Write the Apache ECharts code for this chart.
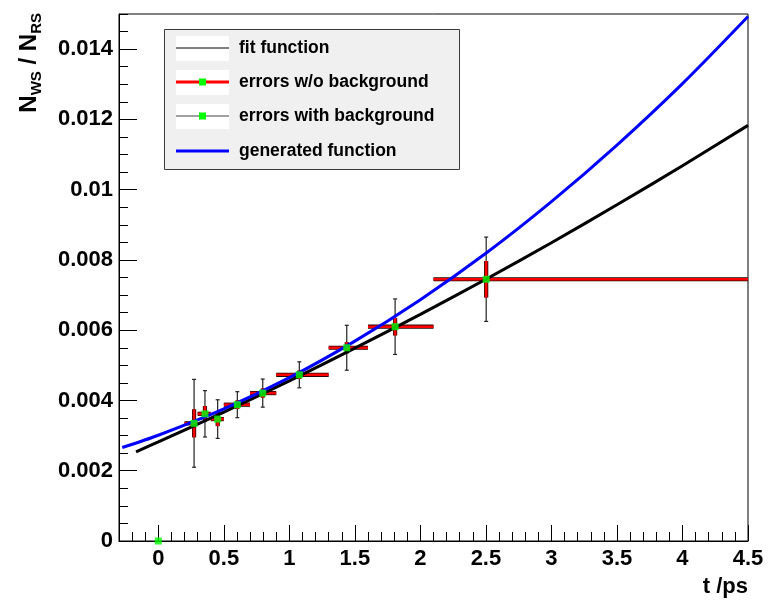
<!DOCTYPE html>
<html>
<head>
<meta charset="utf-8">
<script src="https://cdn.jsdelivr.net/npm/echarts@6/dist/echarts.min.js"></script>
<style>
  html, body { margin: 0; padding: 0; background: #ffffff; }
  #chart { width: 770px; height: 608px; }
</style>
</head>
<body>
<div id="chart"></div>
<script>
// Time bins (t in ps) and the measured wrong-sign / right-sign ratio
const binLow  = [0.2, 0.3, 0.4, 0.5, 0.7, 0.9, 1.3, 1.6, 2.1];
const binHigh = [0.3, 0.4, 0.5, 0.7, 0.9, 1.3, 1.6, 2.1, 4.5];
const tMean   = [0.273, 0.356, 0.453, 0.603, 0.797, 1.076, 1.438, 1.807, 2.502];
const ratio   = [0.00335, 0.00362, 0.00347, 0.00388, 0.00421, 0.00473, 0.00550, 0.00610, 0.00745];
// statistical errors without / with background subtraction
const errNoBg = [0.00040, 0.00022, 0.00020, 0.00012, 0.00013, 0.00012, 0.00016, 0.00025, 0.00052];
const errBg   = [0.00125, 0.00066, 0.00055, 0.00037, 0.00040, 0.00037, 0.00064, 0.00079, 0.00120];
// empty first bin
const emptyT = [0];
const emptyRatio = [0];

// fitted function, sampled along t
const fitT     = [-0.17, 0, 0.5, 1, 1.5, 2, 2.5, 3, 3.5, 4, 4.5];
const fitRatio = [0.00254, 0.00282, 0.00367, 0.00456, 0.00549, 0.00645, 0.00745, 0.00849, 0.00957, 0.01068, 0.01183];
// generated function, sampled along t
const genT     = [-0.275, 0, 0.5, 1, 1.5, 2, 2.5, 3, 3.5, 4, 4.5];
const genRatio = [0.00266, 0.00301, 0.00376, 0.00465, 0.00569, 0.00687, 0.00819, 0.00966, 0.01127, 0.01302, 0.01493];

// axis ticks and labels
const xMajor = [0, 0.5, 1, 1.5, 2, 2.5, 3, 3.5, 4, 4.5];
const xTickLabels = ['0', '0.5', '1', '1.5', '2', '2.5', '3', '3.5', '4', '4.5'];
const yMajor = [0, 0.002, 0.004, 0.006, 0.008, 0.01, 0.012, 0.014];
const yTickLabels = ['0', '0.002', '0.004', '0.006', '0.008', '0.01', '0.012', '0.014'];

const legendLabels = ['fit function', 'errors w/o background', 'errors with background', 'generated function'];

const FONT = 'Liberation Sans, Arial, Helvetica, sans-serif';

function labelFor(values, labels) {
  return function (v) {
    const i = values.findIndex(m => Math.abs(m - v) < 1e-9);
    return i >= 0 ? labels[i] : '';
  };
}

const errorRows = tMean.map((t, i) => [t, binLow[i], binHigh[i], ratio[i], errBg[i], errNoBg[i]]);

function renderErrors(params, api) {
  const t = api.value(0), lo = api.value(1), hi = api.value(2);
  const r = api.value(3), eb = api.value(4), en = api.value(5);
  const c = api.coord([t, r]);
  const left = api.coord([lo, r]);
  const right = api.coord([hi, r]);
  const bTop = api.coord([t, r + eb]);
  const bBot = api.coord([t, r - eb]);
  const nTop = api.coord([t, r + en]);
  const nBot = api.coord([t, r - en]);
  const seg = (x1, y1, x2, y2, stroke, w) => ({
    type: 'line',
    shape: { x1: x1, y1: y1, x2: x2, y2: y2 },
    style: { stroke: stroke, lineWidth: w }
  });
  return {
    type: 'group',
    children: [
      // errors with background: thin black bar with end caps
      seg(c[0], bTop[1], c[0], bBot[1], '#222', 1.2),
      seg(c[0] - 2, bTop[1], c[0] + 2, bTop[1], '#222', 1.2),
      seg(c[0] - 2, bBot[1], c[0] + 2, bBot[1], '#222', 1.2),
      // errors without background: red bars with a dark edge
      seg(left[0], c[1], right[0], c[1], '#2a0000', 4.2),
      seg(c[0], nTop[1], c[0], nBot[1], '#2a0000', 4.2),
      seg(left[0], c[1], right[0], c[1], '#ff0000', 2.6),
      seg(c[0], nTop[1], c[0], nBot[1], '#ff0000', 2.6)
    ]
  };
}

const chart = echarts.init(document.getElementById('chart'), null, { renderer: 'canvas' });

const GRID = { left: 119, right: 22, top: 14, bottom: 67 };

const legendX = 164, legendY = 29, legendW = 295, legendH = 140;
const rowY = [48, 82, 116, 151];
const legendGraphics = [
  { type: 'rect', shape: { x: legendX + 0.5, y: legendY + 0.5, width: legendW, height: legendH },
    style: { fill: '#f0f0f0', stroke: '#3a3a3a', lineWidth: 1 }, z: 100 },
  { type: 'rect', shape: { x: 176, y: rowY[0] - 12, width: 53, height: 25 }, style: { fill: '#ffffff' }, z: 101 },
  { type: 'rect', shape: { x: 176, y: rowY[1] - 12, width: 53, height: 25 }, style: { fill: '#ffffff' }, z: 101 },
  { type: 'rect', shape: { x: 176, y: rowY[2] - 12, width: 53, height: 25 }, style: { fill: '#ffffff' }, z: 101 },
  { type: 'line', shape: { x1: 176, y1: rowY[0], x2: 229, y2: rowY[0] }, style: { stroke: '#000', lineWidth: 1 }, z: 102 },
  { type: 'line', shape: { x1: 176, y1: rowY[1], x2: 229, y2: rowY[1] }, style: { stroke: '#ff0000', lineWidth: 3 }, z: 102 },
  { type: 'rect', shape: { x: 199, y: rowY[1] - 3.5, width: 7, height: 7 }, style: { fill: '#00ff00' }, z: 103 },
  { type: 'line', shape: { x1: 176, y1: rowY[2], x2: 229, y2: rowY[2] }, style: { stroke: '#444', lineWidth: 1 }, z: 102 },
  { type: 'rect', shape: { x: 199, y: rowY[2] - 3.5, width: 7, height: 7 }, style: { fill: '#00ff00' }, z: 103 },
  { type: 'line', shape: { x1: 176, y1: rowY[3], x2: 229, y2: rowY[3] }, style: { stroke: '#0000ff', lineWidth: 3 }, z: 102 }
];
legendLabels.forEach((txt, i) => {
  legendGraphics.push({
    type: 'text', x: 239, y: rowY[i], z: 103,
    style: { text: txt, fill: '#000', font: 'bold 17.5px ' + FONT, align: 'left', verticalAlign: 'middle' }
  });
});

const tickLabelStyle = { color: '#000', fontFamily: FONT, fontWeight: 'bold', fontSize: 22 };

const option = {
  animation: false,
  backgroundColor: '#ffffff',
  grid: Object.assign({ show: true, borderColor: '#000', borderWidth: 1, backgroundColor: 'transparent', containLabel: false }, GRID),
  xAxis: [
    {
      type: 'value', min: -0.3, max: 4.5, interval: 0.1, position: 'bottom',
      axisLine: { show: true, onZero: false, lineStyle: { color: '#000', width: 1 } },
      axisTick: { show: true, inside: true, length: 9, lineStyle: { color: '#000', width: 1 } },
      axisLabel: { show: false },
      splitLine: { show: false }
    },
    {
      type: 'value', min: -0.3, max: 4.5, position: 'bottom',
      axisLine: { show: false, onZero: false },
      axisTick: { show: true, inside: true, length: 16, customValues: xMajor, lineStyle: { color: '#000', width: 1 } },
      axisLabel: Object.assign({
        show: true, customValues: xMajor, margin: 7,
        formatter: labelFor(xMajor, xTickLabels)
      }, tickLabelStyle),
      splitLine: { show: false }
    }
  ],
  yAxis: [
    {
      type: 'value', min: 0, max: 0.015, interval: 0.0005, position: 'left',
      axisLine: { show: true, onZero: false, lineStyle: { color: '#000', width: 1 } },
      axisTick: { show: true, inside: true, length: 9, lineStyle: { color: '#000', width: 1 } },
      axisLabel: { show: false },
      splitLine: { show: false }
    },
    {
      type: 'value', min: 0, max: 0.015, position: 'left',
      axisLine: { show: false, onZero: false },
      axisTick: { show: true, inside: true, length: 18, customValues: yMajor, lineStyle: { color: '#000', width: 1 } },
      axisLabel: Object.assign({
        show: true, customValues: yMajor, margin: 6,
        formatter: labelFor(yMajor, yTickLabels)
      }, tickLabelStyle),
      splitLine: { show: false }
    }
  ],
  series: [
    {
      name: 'errors', type: 'custom', xAxisIndex: 0, yAxisIndex: 0,
      renderItem: renderErrors,
      encode: { x: [0, 1, 2], y: [3] },
      data: errorRows, clip: true, z: 2, silent: true
    },
    {
      name: 'fit function', type: 'line', xAxisIndex: 0, yAxisIndex: 0,
      data: fitT.map((t, i) => [t, fitRatio[i]]),
      smooth: 0.3, showSymbol: false, symbol: 'none', clip: true, z: 3,
      lineStyle: { color: '#000000', width: 3 }
    },
    {
      name: 'generated function', type: 'line', xAxisIndex: 0, yAxisIndex: 0,
      data: genT.map((t, i) => [t, genRatio[i]]),
      smooth: 0.3, showSymbol: false, symbol: 'none', clip: true, z: 3,
      lineStyle: { color: '#0000ff', width: 3 }
    },
    {
      name: 'points', type: 'scatter', xAxisIndex: 0, yAxisIndex: 0,
      data: tMean.map((t, i) => [t, ratio[i]]).concat(emptyT.map((t, i) => [t, emptyRatio[i]])),
      symbol: 'rect', symbolSize: 7, clip: false, z: 4, silent: true,
      itemStyle: { color: '#00ff00' }
    }
  ],
  graphic: legendGraphics.concat([
    {
      type: 'text', x: 748, y: 587, z: 50,
      style: { text: 't /ps', fill: '#000', font: 'bold 22px ' + FONT, align: 'right', verticalAlign: 'middle' }
    },
    {
      type: 'text', x: 29, y: 13, rotation: Math.PI / 2, z: 50,
      style: {
        text: '{n|N}{s|WS}{n| / N}{s|RS}',
        align: 'right', verticalAlign: 'middle', fill: '#000',
        rich: {
          n: { fontSize: 24, fontWeight: 'bold', fontFamily: FONT, lineHeight: 30, fill: '#000' },
          s: { fontSize: 15, fontWeight: 'bold', fontFamily: FONT, lineHeight: 15, verticalAlign: 'bottom', fill: '#000' }
        }
      }
    }
  ])
};

chart.setOption(option);
</script>
</body>
</html>
